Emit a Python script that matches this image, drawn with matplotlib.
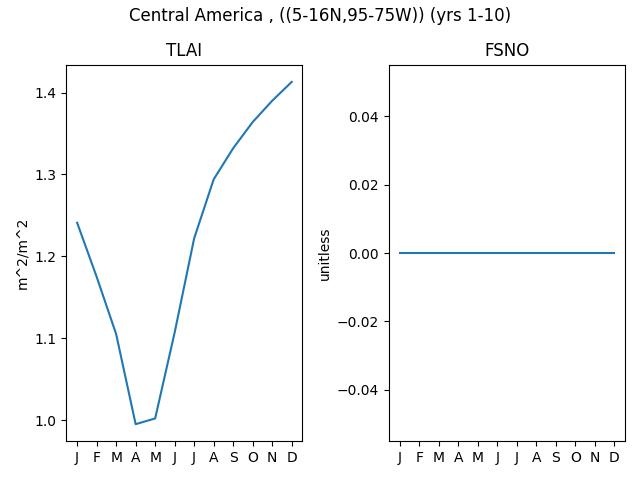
import numpy as np
import matplotlib
matplotlib.use('Agg')
import matplotlib.pyplot as plt

# monthly climatology, Central America box
months = ['J', 'F', 'M', 'A', 'M', 'J', 'J', 'A', 'S', 'O', 'N', 'D']
tlai = [1.241, 1.175, 1.105, 0.995, 1.002, 1.107, 1.222, 1.294, 1.332, 1.364, 1.390, 1.413]
fsno = [0.0, 0.0, 0.0, 0.0, 0.0, 0.0, 0.0, 0.0, 0.0, 0.0, 0.0, 0.0]

fig, axs = plt.subplots(1, 2, figsize=(6.4, 4.8), dpi=100)
x = np.arange(1, 13)

axs[0].plot(x, tlai)
axs[0].set_title('TLAI')
axs[0].set_ylabel('m^2/m^2')

axs[1].plot(x, fsno)
axs[1].set_title('FSNO')
axs[1].set_ylabel('unitless')

for ax in axs:
    ax.set_xticks(x)
    ax.set_xticklabels(months)

fig.suptitle('Central America , ((5-16N,95-75W)) (yrs 1-10)', y=0.985)
fig.tight_layout()
fig.subplots_adjust(top=0.865)
fig.savefig('out.png')
